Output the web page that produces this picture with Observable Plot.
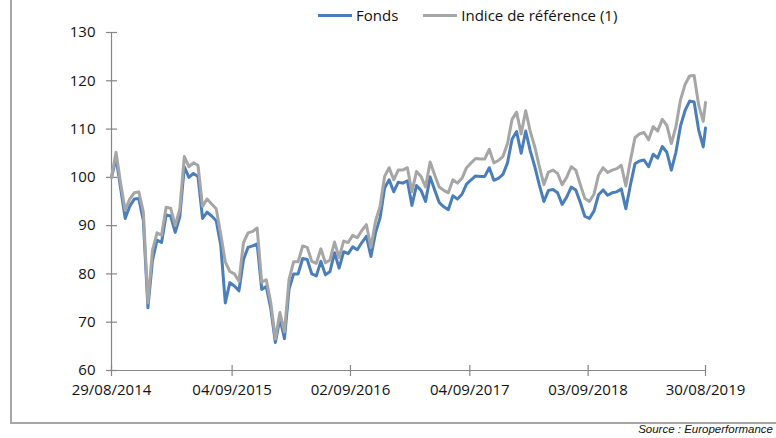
<!DOCTYPE html>
<html>
<head>
<meta charset="utf-8">
<script src="https://cdn.jsdelivr.net/npm/d3@7"></script>
<script src="https://cdn.jsdelivr.net/npm/@observablehq/plot@0.6"></script>
<style>
  html, body { margin: 0; padding: 0; background: #fff; }
  #wrap { position: relative; width: 776px; height: 438px; overflow: hidden; background: #fff; font-family: "Open Sans", sans-serif; }
  #frame { position: absolute; left: 10px; top: -20px; width: 900px; height: 444px; box-sizing: border-box; border-left: 2px solid #a6a6a6; border-bottom: 2px solid #a6a6a6; }
  #chart { position: absolute; left: 0; top: 0; }
  #legend { position: absolute; left: 318px; top: 5px; height: 20px; display: flex; align-items: center; font-size: 15px; color: #111; white-space: nowrap; }
  .sw { display: inline-block; width: 34px; height: 3px; margin-right: 4px; }
  #source { position: absolute; right: 3px; top: 423px; font-family: "Liberation Sans", Arial, sans-serif; font-style: italic; font-size: 11.5px; color: #111; white-space: nowrap; }
</style>
</head>
<body>
<div id="wrap">
  <div id="frame"></div>
  <div id="chart"></div>
  <div id="legend"></div>
  <div id="source">Source : Europerformance</div>
</div>
<script>
// ---- data (one sample every two weeks) ----
const seriesNames = ["Fonds", "Indice de référence (1)"];
const seriesColors = ["#4a7ebb", "#a6a6a6"];
const firstDate = "2014-08-29";
const lastDate = "2019-08-30";
const stepDays = 14;

const indice = [100.0,105.2,98.8,93.2,95.5,96.8,97.0,92.8,74.0,84.9,
88.5,88.0,93.8,93.6,90.0,93.4,104.3,102.2,103.0,102.5,
94.0,95.5,94.5,93.5,88.2,82.5,80.5,80.0,78.5,86.5,
88.5,88.8,89.5,78.3,78.8,74.0,66.5,72.0,68.0,78.8,
82.5,82.5,85.8,85.5,82.6,82.2,85.2,82.3,82.9,86.6,
83.4,86.8,86.5,88.0,87.5,89.0,90.2,85.5,90.9,94.0,
100.2,102.0,99.5,101.5,101.5,102.0,97.0,101.2,100.2,98.0,
103.2,100.5,98.0,97.3,96.8,99.5,98.8,99.8,102.0,103.0,
103.9,103.8,103.8,105.8,103.0,103.5,104.3,107.0,112.0,113.5,
109.0,113.8,109.5,106.3,102.2,98.5,101.1,101.5,100.8,98.5,
100.0,102.2,101.5,98.5,95.6,95.0,96.5,100.5,102.0,101.0,
101.5,101.8,102.5,98.2,103.5,108.2,109.0,109.3,107.8,110.5,
109.6,112.0,110.8,107.0,110.5,116.0,119.2,121.0,121.1,115.0,
111.6,115.5];

const fonds = [100.0,104.0,97.8,91.5,94.0,95.5,95.6,91.0,73.0,82.8,
87.0,86.5,92.2,92.0,88.6,91.8,102.2,100.0,100.8,100.2,
91.5,92.8,92.0,91.0,86.0,74.0,78.2,77.5,76.5,83.0,
85.5,85.8,86.2,76.8,77.4,72.8,65.8,70.8,66.6,76.8,
80.0,80.0,83.2,83.0,80.0,79.6,82.6,79.8,80.5,84.4,
81.2,84.6,84.2,85.6,85.0,86.5,87.8,83.6,88.5,91.6,
97.8,99.5,97.0,99.0,98.8,99.3,94.2,98.3,97.3,95.0,
100.1,97.4,94.8,93.9,93.3,96.2,95.5,96.5,98.6,99.5,
100.3,100.2,100.2,102.0,99.4,99.8,100.6,103.0,107.9,109.5,
105.0,109.6,105.5,102.2,98.4,95.0,97.3,97.5,96.8,94.4,
95.9,98.0,97.4,94.8,91.9,91.5,93.0,96.4,97.4,96.3,
96.8,97.0,97.6,93.5,98.4,102.8,103.4,103.6,102.2,104.8,
104.0,106.4,105.2,101.5,105.2,110.6,113.8,115.8,115.6,109.8,
106.3,110.2];

const xTickLabels = ["29/08/2014", "04/09/2015", "02/09/2016", "04/09/2017", "03/09/2018", "30/08/2019"];
const yTicks = [60, 70, 80, 90, 100, 110, 120, 130];

// ---- build table ----
const parseISO = d3.utcParse("%Y-%m-%d");
const parseFR = d3.utcParse("%d/%m/%Y");
const start = parseISO(firstDate);
const end = parseISO(lastDate);
const dates = indice.map((_, i) => i === indice.length - 1 ? end : d3.utcDay.offset(start, stepDays * i));
const rows = [];
dates.forEach((d, i) => {
  rows.push({date: d, value: fonds[i], serie: seriesNames[0]});
  rows.push({date: d, value: indice[i], serie: seriesNames[1]});
});
const xTicks = xTickLabels.map(parseFR);

const axisColor = "#868686";
const hTick = {draw(ctx) { ctx.moveTo(-5.5, 0); ctx.lineTo(5.5, 0); }};
const vTick = {draw(ctx) { ctx.moveTo(0, -5.5); ctx.lineTo(0, 5.5); }};

const chart = Plot.plot({
  width: 776,
  height: 438,
  marginLeft: 111,
  marginRight: 71,
  marginTop: 32,
  marginBottom: 68,
  style: {fontFamily: "Open Sans, sans-serif", fontSize: "15px", color: "#111", background: "transparent"},
  x: {type: "utc", domain: [xTicks[0], xTicks[xTicks.length - 1]], label: null},
  y: {domain: [60, 130], label: null},
  color: {domain: seriesNames, range: seriesColors},
  marks: [
    Plot.ruleY([60], {x1: xTicks[0], x2: xTicks[xTicks.length - 1], stroke: axisColor, strokeWidth: 1.2}),
    Plot.ruleX([xTicks[0]], {y1: 60, y2: 130, stroke: axisColor, strokeWidth: 1.2}),
    Plot.dot(yTicks, {x: () => xTicks[0], y: d => d, symbol: hTick, fill: "none", stroke: axisColor, strokeWidth: 1.2}),
    Plot.dot(xTicks, {x: d => d, y: () => 60, symbol: vTick, fill: "none", stroke: axisColor, strokeWidth: 1.2}),
    Plot.axisY({ticks: yTicks, tickSize: 0, tickPadding: 16, tickFormat: d => d, fontSize: 15}),
    Plot.axisX({ticks: xTicks, tickSize: 0, tickPadding: 14, tickFormat: d3.utcFormat("%d/%m/%Y"), fontSize: 15}),
    Plot.line(rows.filter(r => r.serie === seriesNames[0]), {x: "date", y: "value", stroke: seriesColors[0], strokeWidth: 3, strokeLinejoin: "round"}),
    Plot.line(rows.filter(r => r.serie === seriesNames[1]), {x: "date", y: "value", stroke: seriesColors[1], strokeWidth: 3, strokeLinejoin: "round"})
  ]
});
document.getElementById("chart").appendChild(chart);

// ---- legend ----
const legend = document.getElementById("legend");
seriesNames.forEach((name, i) => {
  const item = document.createElement("span");
  item.style.display = "inline-flex";
  item.style.alignItems = "center";
  item.style.marginRight = i === 0 ? "25px" : "0";
  const sw = document.createElement("span");
  sw.className = "sw";
  sw.style.background = seriesColors[i];
  const t = document.createElement("span");
  t.textContent = name;
  item.appendChild(sw);
  item.appendChild(t);
  legend.appendChild(item);
});
</script>
</body>
</html>
